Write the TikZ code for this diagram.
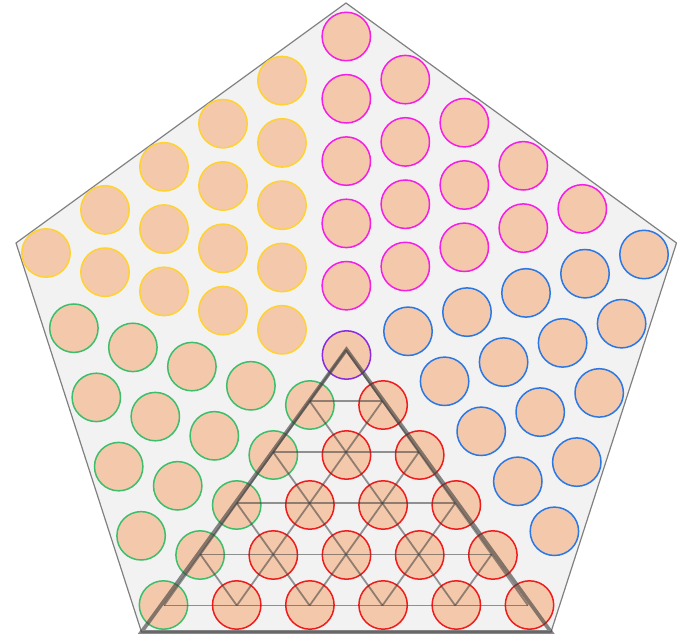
\documentclass[tikz,border=0pt]{standalone}
\definecolor{peach}{HTML}{F4C9AB}
\definecolor{bgpent}{HTML}{F2F2F2}
\definecolor{cyel}{HTML}{FFD233}
\definecolor{cmag}{HTML}{F51EE4}
\definecolor{cgrn}{HTML}{3DBE6B}
\definecolor{cblu}{HTML}{2B78E4}
\definecolor{cred}{HTML}{EE1C1C}
\definecolor{cpur}{HTML}{8A2BE2}
\definecolor{linec}{HTML}{404040}
\begin{document}
\begin{tikzpicture}[x=1pt,y=-1pt,
  peg/.style={circle,draw=#1,fill=peach,line width=1.5pt,minimum size=48.4pt,inner sep=0pt},
  lat/.style={draw=linec,draw opacity=0.55,line width=1.8pt},
  tri/.style={draw=linec,draw opacity=0.62,line width=3.8pt,line join=miter},
  pent/.style={fill=bgpent,draw=gray,line width=1.2pt}]
\useasboundingbox (0,0) rectangle (680,636);
% pentagon
\coordinate (v1) at (346,3);
\coordinate (v2) at (676.5,243);
\coordinate (v3) at (551,632);
\coordinate (v4) at (141.5,632);
\coordinate (v5) at (16,243);
\path[pent] (v1) -- (v2) -- (v3) -- (v4) -- (v5) -- cycle;
% red sector
\foreach \i in {0,...,4}{
  \pgfmathtruncatemacro\jm{5-\i}
  \foreach \j in {1,...,\jm}{
    \node[peg=cred] (r-\i-\j) at ({346.5-36.6*\i+36.6*\j},{355+50*\i+50*\j}) {};
  }
}
% green sector
\foreach \i in {1,...,5}{
  \pgfmathtruncatemacro\jm{5-\i}
  \foreach \j in {0,...,\jm}{
    \node[peg=cgrn] (g-\i-\j) at ({346.5-36.6*\i-59*\j},{355+50*\i-19.2*\j}) {};
  }
}
% yellow sector
\foreach \i in {1,...,5}{
  \pgfmathtruncatemacro\jm{5-\i}
  \foreach \j in {0,...,\jm}{
    \node[peg=cyel] (y-\i-\j) at ({341-59*\i},{349-19.2*\i-62.3*\j}) {};
  }
}
% magenta sector
\foreach \i in {1,...,5}{
  \pgfmathtruncatemacro\jm{5-\i}
  \foreach \j in {0,...,\jm}{
    \node[peg=cmag] (m-\i-\j) at ({346.3+59*\j},{348-62.3*\i-19.2*\j}) {};
  }
}
% blue sector
\foreach \i in {1,...,5}{
  \pgfmathtruncatemacro\jm{5-\i}
  \foreach \j in {0,...,\jm}{
    \node[peg=cblu] (b-\i-\j) at ({349+59*\i+36.6*\j},{350.5-19.2*\i+50*\j}) {};
  }
}
% centre
\node[peg=cpur] (ctr) at (346.5,355) {};
% lattice
\foreach \r in {0,...,5}{
  \foreach \k in {0,...,\r}{
    \coordinate (p-\r-\k) at ({346-36.4*\r+72.8*\k},{350+51.1*\r});
  }
}
\foreach \r in {1,...,5}{ \draw[lat] (p-\r-0) -- (p-\r-\r); }
\foreach \r in {0,...,4}{
  \pgfmathtruncatemacro\e{5-\r}
  \draw[lat] (p-\r-0) -- (p-5-\e);
  \draw[lat] (p-\r-\r) -- (p-5-\r);
}
% triangle outline
\coordinate (apex) at (346.5,349.5);
\draw[tri] (v4) -- (apex) -- (v3) -- cycle;
\end{tikzpicture}
\end{document}
